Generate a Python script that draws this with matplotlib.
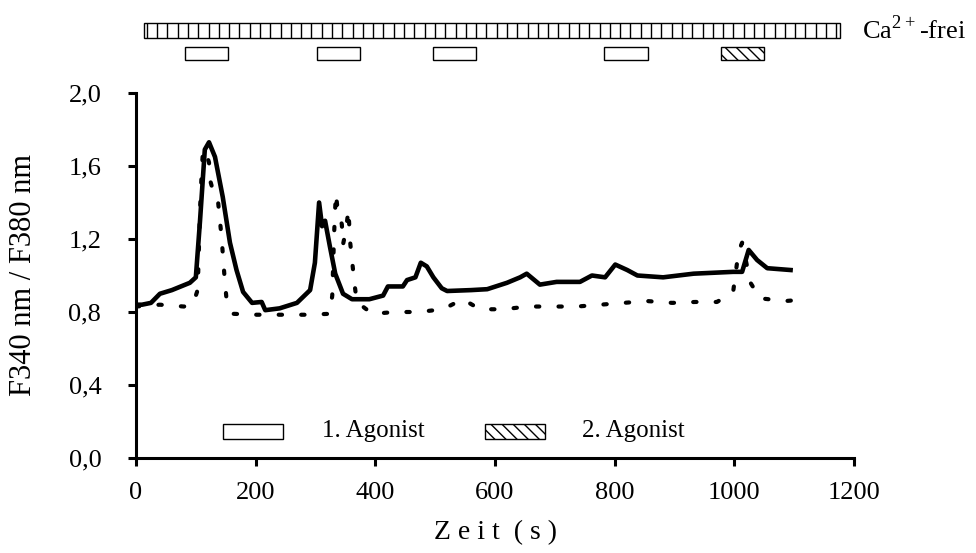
import numpy as np
from matplotlib import pyplot as plt
from matplotlib.patches import Rectangle

plt.rcParams['font.family'] = ['Liberation Serif', 'DejaVu Serif']
plt.rcParams['mathtext.fontset'] = 'custom'
plt.rcParams['mathtext.rm'] = 'Liberation Serif'
plt.rcParams['hatch.linewidth'] = 1.0

# solid trace (time in s, F340/F380)
t_solid = [0, 10, 25, 40, 60, 90, 100, 107, 115, 122, 132, 145, 157, 168, 179, 194,
           210, 216, 240, 269, 291, 299, 306, 311, 316, 324, 333, 346, 361, 390, 413,
           421, 446, 453, 467, 476, 486, 497, 511, 520, 560, 587, 620, 642, 653, 675,
           703, 742, 762, 784, 801, 821, 838, 881, 932, 998, 1013, 1024, 1038, 1055, 1094]
r_solid = [0.84, 0.84, 0.85, 0.90, 0.92, 0.96, 0.99, 1.30, 1.69, 1.73, 1.65, 1.43, 1.18, 1.03, 0.91, 0.85,
           0.855, 0.81, 0.82, 0.85, 0.92, 1.07, 1.40, 1.27, 1.30, 1.16, 1.01, 0.90, 0.87, 0.87, 0.89,
           0.94, 0.94, 0.975, 0.99, 1.07, 1.05, 0.99, 0.93, 0.915, 0.92, 0.925, 0.96, 0.99, 1.01, 0.95,
           0.965, 0.965, 1.00, 0.99, 1.06, 1.03, 1.00, 0.99, 1.01, 1.02, 1.02, 1.14, 1.085, 1.04, 1.03]

# dotted trace
t_dot = [0, 40, 80, 95, 102, 104, 107, 110, 112, 118, 122, 124, 130, 137, 143, 148, 151, 163,
         202, 241, 283, 324, 328, 331, 334, 336, 344, 346, 351, 355, 358, 365, 369, 395, 433,
         472, 513, 546, 575, 614, 655, 695, 737, 776, 815, 854, 896, 935, 971, 998, 1007, 1013,
         1027, 1043, 1085, 1122]
r_dot = [0.83, 0.84, 0.83, 0.84, 0.91, 1.02, 1.36, 1.58, 1.69, 1.66, 1.62, 1.52, 1.45, 1.41, 1.21, 0.99, 0.88, 0.79,
         0.785, 0.785, 0.785, 0.79, 0.89, 1.22, 1.45, 1.39, 1.28, 1.17, 1.25, 1.36, 1.18, 0.96, 0.855, 0.79, 0.80,
         0.80, 0.815, 0.87, 0.815, 0.815, 0.83, 0.83, 0.83, 0.84, 0.85, 0.86, 0.85, 0.855, 0.855, 0.91, 1.13, 1.18,
         0.96, 0.875, 0.86, 0.87]

# application windows (s)
ca_free = (13, 1176)
agonist1_start = [82, 303, 497, 783]
agonist1_end = [154, 375, 569, 855]
agonist2 = (978, 1049)

x_ticks = [0, 200, 400, 600, 800, 1000, 1200]
y_ticks = [0.0, 0.4, 0.8, 1.2, 1.6, 2.0]

fig = plt.figure(figsize=(9.76, 5.53), dpi=100)
ax = fig.add_axes([136 / 976, 95 / 553, 718 / 976, 365 / 553])

ax.plot(t_solid, r_solid, color='black', lw=3.3, solid_joinstyle='round', zorder=3)
ax.plot(t_dot, r_dot, color='black', lw=3.0, linestyle=(0, (0.8, 4.6)),
        dash_capstyle='round', zorder=2)

ax.set_xlim(0, 1200)
ax.set_ylim(0, 2.0)
ax.set_xticks(x_ticks)
ax.set_yticks(y_ticks)
ax.set_yticklabels([f'{v:.1f}'.replace('.', ',') for v in y_ticks])
ax.set_xticklabels([str(v) for v in x_ticks])
for s in ['top', 'right']:
    ax.spines[s].set_visible(False)
for s in ['left', 'bottom']:
    ax.spines[s].set_linewidth(2.2)
ax.tick_params(axis='both', direction='out', length=6, width=2.2, labelsize=19)
ax.tick_params(axis='x', pad=11)
ax.tick_params(axis='y', pad=19)

ax.set_xlabel('Z e i t  ( s )', fontsize=20)
ax.xaxis.set_label_coords(0.5, -0.17)
ax.set_ylabel('F340 nm / F380 nm', fontsize=22)
ax.yaxis.set_label_coords(-0.137, 0.5)

# Ca2+-free band above the axes
ax.add_patch(Rectangle((ca_free[0], 2.30), ca_free[1] - ca_free[0], 0.085,
                       facecolor='white', edgecolor='black', lw=1, clip_on=False))
ax.vlines(np.arange(ca_free[0] + 5, ca_free[1], 17.2), 2.30, 2.385,
          color='black', lw=1, clip_on=False)
ax.text(1213, 2.345, 'Ca$^{2+}$-frei', fontsize=19, va='center', ha='left')

for s, e in zip(agonist1_start, agonist1_end):
    ax.add_patch(Rectangle((s, 2.18), e - s, 0.07, facecolor='white',
                           edgecolor='black', lw=1, clip_on=False))
ax.add_patch(Rectangle((agonist2[0], 2.18), agonist2[1] - agonist2[0], 0.07,
                       facecolor='white', edgecolor='black', hatch='\\\\\\', lw=1, clip_on=False))

# legend
ax.add_patch(Rectangle((145, 0.105), 101, 0.08, facecolor='white', edgecolor='black', lw=1))
ax.text(311, 0.15, '1. Agonist', fontsize=18, va='center', ha='left')
ax.add_patch(Rectangle((584, 0.105), 100, 0.08, facecolor='white', edgecolor='black',
                       hatch='\\\\\\', lw=1))
ax.text(746, 0.15, '2. Agonist', fontsize=18, va='center', ha='left')

plt.savefig('out.png', dpi=100)
